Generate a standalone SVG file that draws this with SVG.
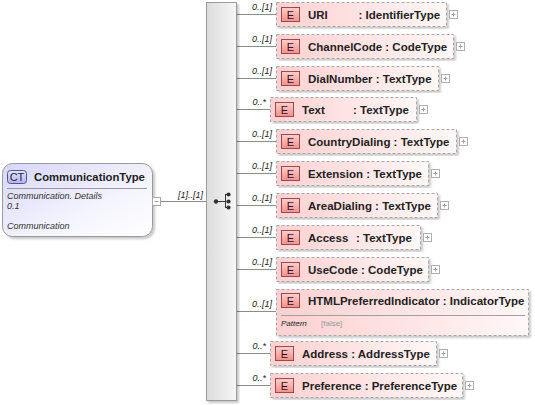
<svg xmlns="http://www.w3.org/2000/svg" width="535" height="405" viewBox="0 0 535 405">
<defs>
<linearGradient id="gBox" x1="0" y1="0" x2="1" y2="0"><stop offset="0" stop-color="#fdd0d0"/><stop offset="1" stop-color="#fff7f7"/></linearGradient>
<linearGradient id="gE" x1="0" y1="0" x2="0" y2="1"><stop offset="0" stop-color="#fbd0d0"/><stop offset="1" stop-color="#ef9090"/></linearGradient>
<linearGradient id="gCT" x1="0" y1="0" x2="1" y2="1"><stop offset="0" stop-color="#d6d6fa"/><stop offset="0.6" stop-color="#f4f4fe"/><stop offset="1" stop-color="#ffffff"/></linearGradient>
<linearGradient id="gCTb" x1="0" y1="0" x2="0" y2="1"><stop offset="0" stop-color="#e2e2fc"/><stop offset="1" stop-color="#b4b4ec"/></linearGradient>
<linearGradient id="gBar" x1="0" y1="0" x2="1" y2="0"><stop offset="0" stop-color="#dcdcdc"/><stop offset="1" stop-color="#f6f6f6"/></linearGradient>
<filter id="sh" x="-5%" y="-5%" width="115%" height="115%"><feDropShadow dx="2" dy="2" stdDeviation="1.2" flood-color="#000" flood-opacity="0.22"/></filter>
</defs>
<style>
.box{fill:url(#gBox);stroke:#a8a8a8;stroke-width:1;stroke-dasharray:3,2;filter:url(#sh)}
.eb{fill:url(#gE);stroke:#a04848;stroke-width:1}
.et{font-family:"Liberation Sans",Arial,sans-serif;font-size:11px;fill:#3a1010;text-anchor:middle}
.en{font-family:"Liberation Sans",Arial,sans-serif;font-size:11.5px;font-weight:bold;fill:#222}
.card{font-family:"Liberation Sans",Arial,sans-serif;font-size:9px;font-style:italic;fill:#222;text-anchor:end}
.pl{fill:#fff;stroke:#b0b0b0;stroke-width:1}
.plg{stroke:#a0a0a0;stroke-width:1}
.con{stroke:#8c8c8c;stroke-width:1;fill:none}
.it{font-family:"Liberation Sans",Arial,sans-serif;font-size:9px;font-style:italic;fill:#333}
</style>

<g id="connectors">
<line class="con" x1="161" y1="201.5" x2="206" y2="201.5"/>
<line class="con" x1="236" y1="14.5" x2="276" y2="14.5"/>
<line class="con" x1="236" y1="46.5" x2="276" y2="46.5"/>
<line class="con" x1="236" y1="78.5" x2="276" y2="78.5"/>
<line class="con" x1="236" y1="109.5" x2="270" y2="109.5"/>
<line class="con" x1="236" y1="141.5" x2="276" y2="141.5"/>
<line class="con" x1="236" y1="173.5" x2="276" y2="173.5"/>
<line class="con" x1="236" y1="205.5" x2="276" y2="205.5"/>
<line class="con" x1="236" y1="237.5" x2="276" y2="237.5"/>
<line class="con" x1="236" y1="269.5" x2="276" y2="269.5"/>
<line class="con" x1="236" y1="311.5" x2="276" y2="311.5"/>
<line class="con" x1="236" y1="353.5" x2="270" y2="353.5"/>
<line class="con" x1="236" y1="385.5" x2="270" y2="385.5"/>
<text class="card" x="203" y="198">[1]..[1]</text>
<text class="card" x="272" y="10">0..[1]</text>
<text class="card" x="272" y="42">0..[1]</text>
<text class="card" x="272" y="74">0..[1]</text>
<text class="card" x="266" y="105">0..*</text>
<text class="card" x="272" y="137">0..[1]</text>
<text class="card" x="272" y="169">0..[1]</text>
<text class="card" x="272" y="201">0..[1]</text>
<text class="card" x="272" y="233">0..[1]</text>
<text class="card" x="272" y="265">0..[1]</text>
<text class="card" x="272" y="307">0..[1]</text>
<text class="card" x="266" y="349">0..*</text>
<text class="card" x="266" y="381">0..*</text>
</g>

<g id="CommunicationType">
<rect x="2.5" y="163.5" width="150" height="73" rx="10" ry="10" fill="url(#gCT)" stroke="#9a9a9a" filter="url(#sh)"/>
<rect x="7.5" y="170.5" width="19" height="13" rx="3" ry="3" fill="url(#gCTb)" stroke="#55558a"/>
<text x="17" y="181" font-family="Liberation Sans, Arial, sans-serif" font-size="11" fill="#22224a" text-anchor="middle">CT</text>
<text x="34" y="181" font-family="Liberation Sans, Arial, sans-serif" font-size="11.3" font-weight="bold" fill="#222">CommunicationType</text>
<line x1="7" y1="188.5" x2="147" y2="188.5" stroke="#9a9a9a"/>
<text x="7" y="199" class="it">Communication. Details</text>
<text x="7" y="209" class="it">0.1</text>
<text x="7" y="229" class="it">Communication</text>
<rect x="152.5" y="197.5" width="8" height="8" fill="#fff" stroke="#a8a8a8"/>
<line x1="154.5" y1="201.5" x2="158.5" y2="201.5" stroke="#999"/>
</g>

<g id="sequence">
<rect x="206.5" y="2.5" width="30" height="398" fill="url(#gBar)" stroke="#9a9a9a" filter="url(#sh)"/>
<line x1="216" y1="201.5" x2="225" y2="201.5" stroke="#333"/>
<line x1="225.5" y1="194.5" x2="225.5" y2="207.5" stroke="#333"/>
<line x1="225" y1="194.5" x2="228.5" y2="194.5" stroke="#333"/>
<line x1="225" y1="207.5" x2="228.5" y2="207.5" stroke="#333"/>
<circle cx="216" cy="201.5" r="2.2" fill="#333"/>
<circle cx="228.5" cy="194.5" r="2.1" fill="#333"/>
<circle cx="228.5" cy="201.5" r="2.1" fill="#333"/>
<circle cx="228.5" cy="207.5" r="2.1" fill="#333"/>
</g>

<g id="URI">
<rect class="box" x="276.5" y="2.5" width="170" height="24"/>
<rect class="eb" x="281.5" y="7.5" width="18" height="14"/>
<text class="et" x="290.5" y="18.5">E</text>
<text class="en" x="308" y="18.5">URI</text>
<text class="en" x="358.5" y="18.5">: IdentifierType</text>
<rect class="pl" x="449.5" y="10.5" width="8" height="8"/>
<path class="plg" d="M451.5 14.5h4M453.5 12.5v4"/>
</g>

<g id="ChannelCode">
<rect class="box" x="276.5" y="34.5" width="177" height="24"/>
<rect class="eb" x="281.5" y="39.5" width="18" height="14"/>
<text class="et" x="290.5" y="50.5">E</text>
<text class="en" x="308" y="50.5">ChannelCode : CodeType</text>
<rect class="pl" x="456.5" y="42.5" width="8" height="8"/>
<path class="plg" d="M458.5 46.5h4M460.5 44.5v4"/>
</g>

<g id="DialNumber">
<rect class="box" x="276.5" y="66.5" width="162" height="24"/>
<rect class="eb" x="281.5" y="71.5" width="18" height="14"/>
<text class="et" x="290.5" y="82.5">E</text>
<text class="en" x="308" y="82.5">DialNumber : TextType</text>
<rect class="pl" x="441.5" y="74.5" width="8" height="8"/>
<path class="plg" d="M443.5 78.5h4M445.5 76.5v4"/>
</g>

<g id="Text">
<rect class="box" x="270.5" y="97.5" width="146" height="24"/>
<rect class="eb" x="275.5" y="102.5" width="18" height="14"/>
<text class="et" x="284.5" y="113.5">E</text>
<text class="en" x="302" y="113.5">Text</text>
<text class="en" x="353" y="113.5">: TextType</text>
<rect class="pl" x="419.5" y="105.5" width="8" height="8"/>
<path class="plg" d="M421.5 109.5h4M423.5 107.5v4"/>
</g>

<g id="CountryDialing">
<rect class="box" x="276.5" y="129.5" width="180" height="24"/>
<rect class="eb" x="281.5" y="134.5" width="18" height="14"/>
<text class="et" x="290.5" y="145.5">E</text>
<text class="en" x="308" y="145.5">CountryDialing : TextType</text>
<rect class="pl" x="459.5" y="137.5" width="8" height="8"/>
<path class="plg" d="M461.5 141.5h4M463.5 139.5v4"/>
</g>

<g id="Extension">
<rect class="box" x="276.5" y="161.5" width="152" height="24"/>
<rect class="eb" x="281.5" y="166.5" width="18" height="14"/>
<text class="et" x="290.5" y="177.5">E</text>
<text class="en" x="308" y="177.5">Extension : TextType</text>
<rect class="pl" x="431.5" y="169.5" width="8" height="8"/>
<path class="plg" d="M433.5 173.5h4M435.5 171.5v4"/>
</g>

<g id="AreaDialing">
<rect class="box" x="276.5" y="193.5" width="161" height="24"/>
<rect class="eb" x="281.5" y="198.5" width="18" height="14"/>
<text class="et" x="290.5" y="209.5">E</text>
<text class="en" x="308" y="209.5">AreaDialing : TextType</text>
<rect class="pl" x="440.5" y="201.5" width="8" height="8"/>
<path class="plg" d="M442.5 205.5h4M444.5 203.5v4"/>
</g>

<g id="Access">
<rect class="box" x="276.5" y="225.5" width="144" height="24"/>
<rect class="eb" x="281.5" y="230.5" width="18" height="14"/>
<text class="et" x="290.5" y="241.5">E</text>
<text class="en" x="308" y="241.5">Access</text>
<text class="en" x="356" y="241.5">: TextType</text>
<rect class="pl" x="423.5" y="233.5" width="8" height="8"/>
<path class="plg" d="M425.5 237.5h4M427.5 235.5v4"/>
</g>

<g id="UseCode">
<rect class="box" x="276.5" y="257.5" width="152" height="24"/>
<rect class="eb" x="281.5" y="262.5" width="18" height="14"/>
<text class="et" x="290.5" y="273.5">E</text>
<text class="en" x="308" y="273.5">UseCode : CodeType</text>
<rect class="pl" x="431.5" y="265.5" width="8" height="8"/>
<path class="plg" d="M433.5 269.5h4M435.5 267.5v4"/>
</g>

<g id="HTMLPreferredIndicator">
<rect class="box" x="276.5" y="289.5" width="252" height="46"/>
<rect class="eb" x="281.5" y="293.5" width="18" height="14"/>
<text class="et" x="290.5" y="304.5">E</text>
<text class="en" x="308" y="304.5">HTMLPreferredIndicator : IndicatorType</text>
<line x1="281" y1="315.5" x2="525" y2="315.5" stroke="#a0a0a0"/>
<text x="281" y="326" font-family="Liberation Sans, Arial, sans-serif" font-size="8" font-style="italic" fill="#222">Pattern</text>
<text x="321" y="326" font-family="Liberation Sans, Arial, sans-serif" font-size="8" fill="#999">[false]</text>
</g>

<g id="Address">
<rect class="box" x="270.5" y="341.5" width="166" height="24"/>
<rect class="eb" x="275.5" y="346.5" width="18" height="14"/>
<text class="et" x="284.5" y="357.5">E</text>
<text class="en" x="302" y="357.5">Address : AddressType</text>
<rect class="pl" x="439.5" y="349.5" width="8" height="8"/>
<path class="plg" d="M441.5 353.5h4M443.5 351.5v4"/>
</g>

<g id="Preference">
<rect class="box" x="270.5" y="373.5" width="192" height="24"/>
<rect class="eb" x="275.5" y="378.5" width="18" height="14"/>
<text class="et" x="284.5" y="389.5">E</text>
<text class="en" x="302" y="389.5">Preference : PreferenceType</text>
<rect class="pl" x="465.5" y="381.5" width="8" height="8"/>
<path class="plg" d="M467.5 385.5h4M469.5 383.5v4"/>
</g>
</svg>
